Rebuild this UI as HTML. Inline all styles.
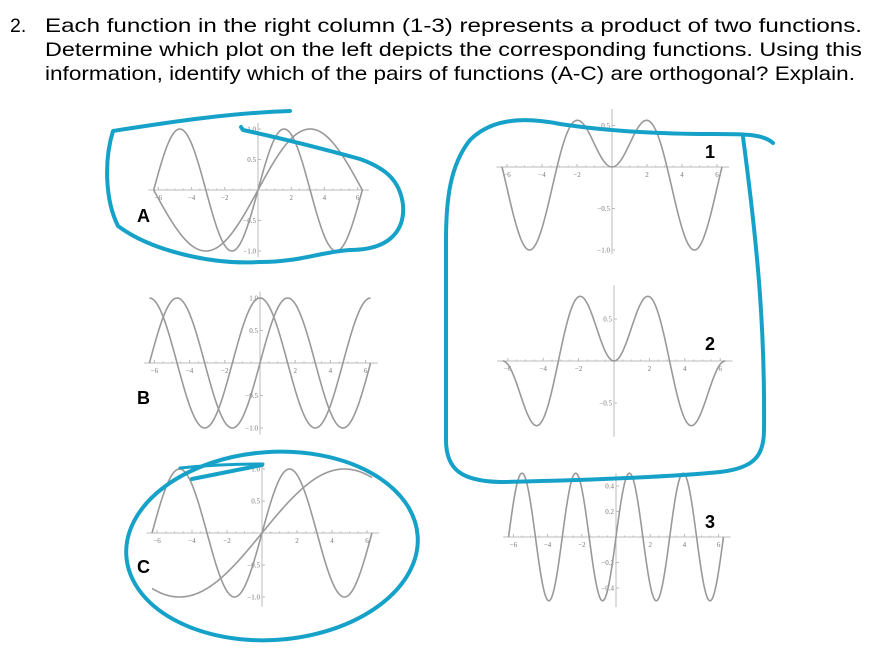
<!DOCTYPE html>
<html><head><meta charset="utf-8"><style>
html,body{margin:0;padding:0;background:#fff;width:882px;height:666px;overflow:hidden}
svg{display:block}
</style></head><body>
<svg id="s" width="882" height="666" viewBox="0 0 882 666" xmlns="http://www.w3.org/2000/svg">
<g font-family="Liberation Sans, Arial, sans-serif" font-size="19.5" fill="#000">
<text x="10" y="32">2.</text>
<text x="45" y="32" textLength="817" lengthAdjust="spacingAndGlyphs">Each function in the right column (1-3) represents a product of two functions.</text>
<text x="45" y="56" textLength="817" lengthAdjust="spacingAndGlyphs">Determine which plot on the left depicts the corresponding functions. Using this</text>
<text x="45" y="80" textLength="810" lengthAdjust="spacingAndGlyphs">information, identify which of the pairs of functions (A-C) are orthogonal? Explain.</text>
</g>
<g id="plots"></g>
<g font-family="Liberation Sans, Arial, sans-serif" font-weight="bold" font-size="18" fill="#000">
<text x="137" y="222">A</text>
<text x="137" y="404">B</text>
<text x="137" y="573">C</text>
<text x="705" y="158">1</text>
<text x="705" y="350">2</text>
<text x="705" y="528">3</text>
</g>
<g fill="none" stroke="#16a2c8" stroke-width="4" stroke-linecap="round" stroke-linejoin="round">
<path d="M290,111 C230,113 170,122 113,131 C104,160 105,200 118,226 C150,250 210,265 260,262 C300,262 320,252 350,250 C390,250 405,230 403,205 C400,180 385,168 360,159 C320,148 280,138 243,130 L241,127"/>
<path d="M773,143 C762,133 740,134 700,134 C640,133 600,130 560,124 C520,116 490,120 470,140 C450,165 446,200 446,240 L446,440 C446,470 462,481 500,482 C600,480 680,476 720,472 C755,468 764,455 764,430 C765,330 758,250 743,137"/>
<ellipse cx="272" cy="546" rx="146" ry="94" transform="rotate(-4 272 546)"/>
<path d="M263,464 C240,464 210,465 180,468" stroke-width="3"/>
<path d="M192,479 L262,465" stroke-width="4"/>
</g>
</svg>
<script>
(function(){
var g=document.getElementById('plots');var NS='http://www.w3.org/2000/svg';
function el(t,a,txt){var e=document.createElementNS(NS,t);for(var k in a)e.setAttribute(k,a[k]);if(txt!==undefined)e.textContent=txt;g.appendChild(e);return e;}
function plot(cx,cy,sx,sy,fs,yt,ytop,ybot){
 // axes
 el('line',{x1:cx-6.6*sx,y1:cy,x2:cx+6.7*sx,y2:cy,stroke:'#bbb','stroke-width':1});
 el('line',{x1:cx,y1:cy-ytop*sy,x2:cx,y2:cy+ybot*sy,stroke:'#bbb','stroke-width':1});
 for(var x=-6;x<=6;x+=0.5){if(Math.abs(x)<0.01)continue;var h=(x%2===0)?3:1.5;el('line',{x1:cx+x*sx,y1:cy,x2:cx+x*sx,y2:cy-h,stroke:'#bbb','stroke-width':1});}
 [-6,-4,-2,2,4,6].forEach(function(x){el('text',{x:cx+x*sx,y:cy+10,'font-size':7,'text-anchor':'middle',fill:'#777','font-family':'Liberation Serif, serif'},(x<0?'\u2212':'')+Math.abs(x));});
 yt.forEach(function(v){el('line',{x1:cx,y1:cy-v*sy,x2:cx+3,y2:cy-v*sy,stroke:'#bbb'});el('text',{x:cx-2,y:cy-v*sy+2.5,'font-size':7,'text-anchor':'end',fill:'#777','font-family':'Liberation Serif, serif'},(v<0?'\u2212':'')+Math.abs(v).toFixed(1));});
 fs.forEach(function(f){var d='';var N=400;for(var i=0;i<=N;i++){var x=-2*Math.PI+4*Math.PI*i/N;d+=(i?'L':'M')+(cx+x*sx).toFixed(2)+','+(cy-f(x)*sy).toFixed(2);}el('path',{d:d,fill:'none',stroke:'#999','stroke-width':1.6});});
}
var S=Math.sin,C=Math.cos;
plot(258,190,16.6,61,[S,function(x){return S(x/2)}],[1,0.5,-0.5,-1],1.1,1.1);
plot(260,363,17.6,65,[S,C],[1,0.5,-0.5,-1],1.1,1.1);
plot(262,533,17.5,64,[S,function(x){return S(x/3)}],[1,0.5,-0.5,-1],1.1,1.15);
plot(612,167,17.5,83,[function(x){return S(x)*S(x/3)}],[0.5,-0.5,-1],0.7,1.05);
plot(614,361,17.7,84,[function(x){return S(x)*S(x/2)}],[0.5,-0.5],0.9,0.9);
plot(616,537,17.1,127.5,[function(x){return S(x)*C(x)}],[0.4,0.2,-0.2,-0.4],0.5,0.55);
})();
</script>
</body></html>
